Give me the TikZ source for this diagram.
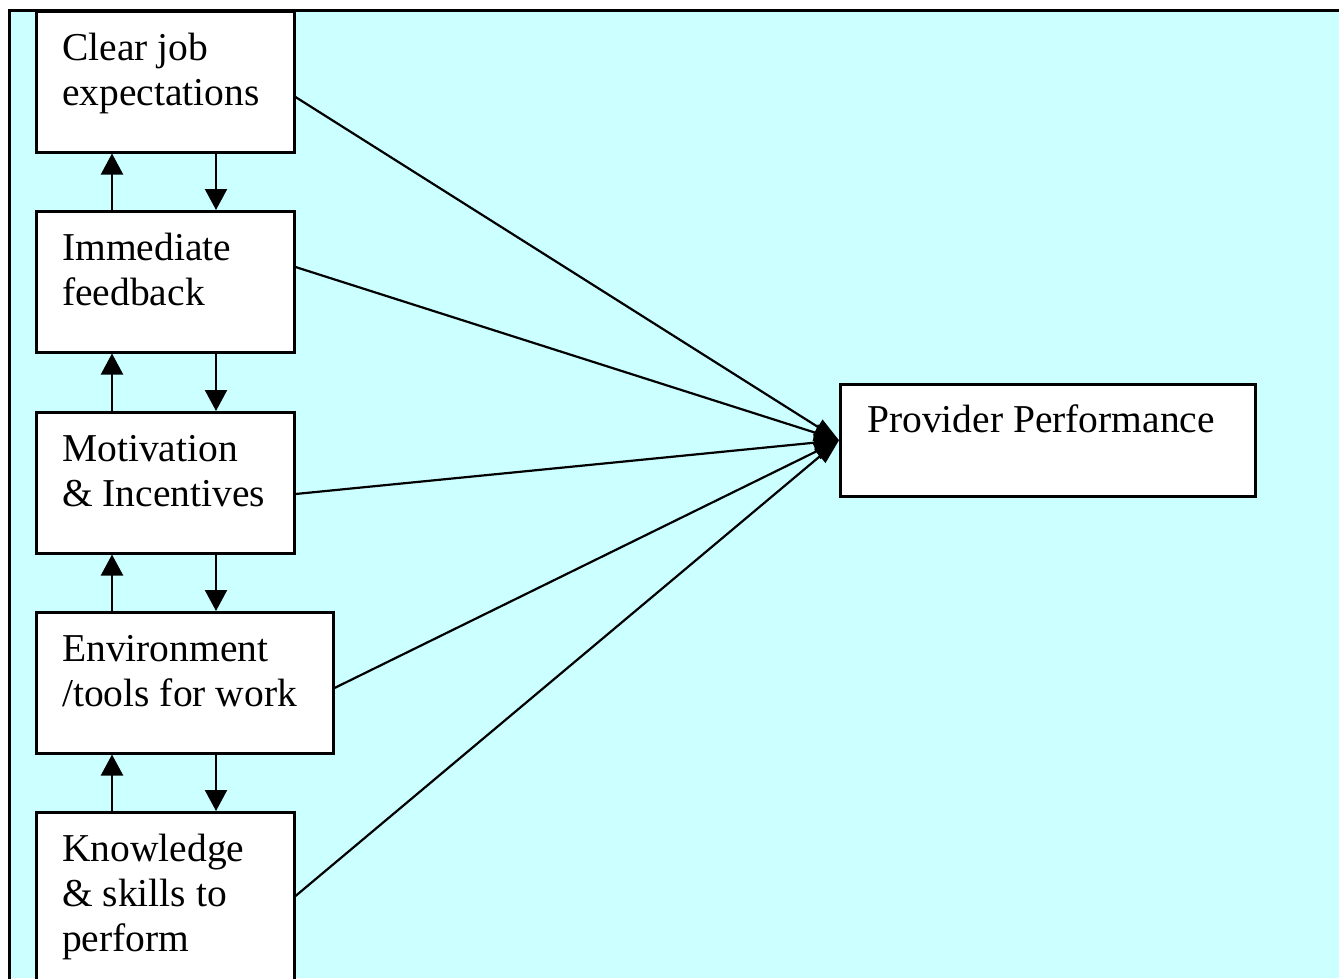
\documentclass[tikz,border=0pt]{standalone}
\usepackage{fontspec}
\setmainfont{Liberation Serif}
\usetikzlibrary{arrows.meta,calc}
\definecolor{bgcyan}{HTML}{CCFFFF}
\begin{document}
\begin{tikzpicture}[x=1pt,y=-1pt,
  box/.style={draw=black, line width=2.5pt, fill=white, rectangle, inner sep=0pt, anchor=north west},
  lbl/.style={anchor=north west, inner sep=0pt, align=left, font=\fontsize{39.5}{45}\selectfont},
  vlink/.style={line width=2.2pt, -{Triangle[width=22pt,length=21pt]}},
  flow/.style={line width=2.2pt, -{Triangle[width=17pt,length=25pt]}}]
\useasboundingbox (0,0) rectangle (1339,978);
\clip (0,0) rectangle (1339,978);
\fill[white] (0,0) rectangle (1339,978);
\fill[bgcyan] (9,10) rectangle (1339,978);
\draw[line width=3pt] (9,990) -- (9,10) -- (1345,10);
% boxes
\node[box, minimum width=258pt, minimum height=141pt] (b1) at (35,10) {};
\node[box, minimum width=258pt, minimum height=141pt] (b2) at (35,210) {};
\node[box, minimum width=258pt, minimum height=141pt] (b3) at (35,411) {};
\node[box, minimum width=297pt, minimum height=141pt] (b4) at (35,611) {};
\node[box, minimum width=258pt, minimum height=200pt] (b5) at (35,811) {};
\node[box, minimum width=415pt, minimum height=112pt] (pp) at (839,383) {};
% labels
\node[lbl] (t1) at (62,28.5) {\strut Clear job\\expectations};
\node[lbl] (t2) at (62,228.5) {\strut Immediate\\feedback};
\node[lbl] (t3) at (62,429.5) {\strut Motivation\\\& Incentives};
\node[lbl] (t4) at (62,629.5) {\strut Environment\\/tools for work};
\node[lbl] (t5) at (62,830.2) {\strut Knowledge\\\& skills to\\perform};
\node[lbl] (tp) at (867,400.5) {\strut Provider Performance};
% vertical links
\coordinate (xu) at (112,0);
\coordinate (xd) at (216,0);
\draw[vlink] (b2.north -| xu) -- (b1.south -| xu);
\draw[vlink] (b1.south -| xd) -- (b2.north -| xd);
\draw[vlink] (b3.north -| xu) -- (b2.south -| xu);
\draw[vlink] (b2.south -| xd) -- (b3.north -| xd);
\draw[vlink] (b4.north -| xu) -- (b3.south -| xu);
\draw[vlink] (b3.south -| xd) -- (b4.north -| xd);
\draw[vlink] (b5.north -| xu) -- (b4.south -| xu);
\draw[vlink] (b4.south -| xd) -- (b5.north -| xd);
% flows to provider performance
\draw[flow] ($(b1.north east)+(0,87)$) -- (pp.west);
\draw[flow] ($(b2.north east)+(0,57)$) -- (pp.west);
\draw[flow] ($(b3.north east)+(0,83)$) -- (pp.west);
\draw[flow] ($(b4.north east)+(0,77)$) -- (pp.west);
\draw[flow] ($(b5.north east)+(0,85)$) -- (pp.west);
\end{tikzpicture}
\end{document}
